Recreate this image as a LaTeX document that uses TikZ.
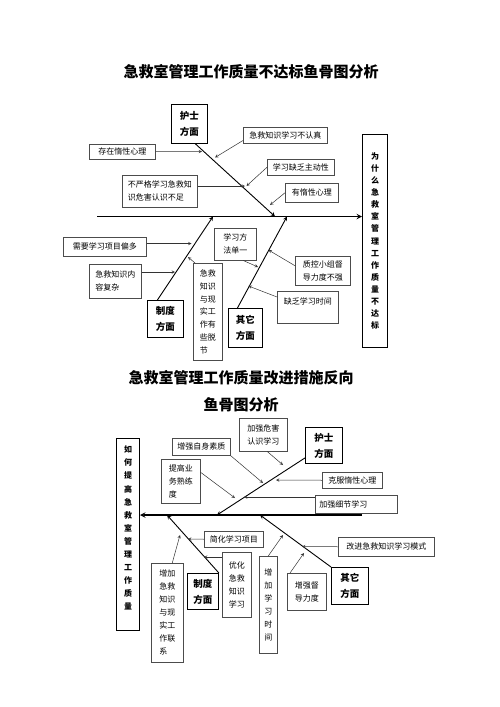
\documentclass[tikz,border=0pt]{standalone}
\usepackage{fontspec}
\setmainfont{Noto Sans CJK SC}

\begin{document}
\begin{tikzpicture}[x=1pt, y=-1pt,
  cause/.style={draw=black!70, line width=0.5pt, inner sep=0pt, anchor=north west, align=left, font=\fontsize{8}{13}\selectfont},
  part/.style={draw, line width=0.9pt, inner sep=0pt, anchor=north west, align=center, font=\bfseries\fontsize{9.5}{16}\selectfont},
  ask/.style={draw, line width=1pt, inner sep=0pt, anchor=north west, align=center, font=\bfseries\fontsize{8}{12.1}\selectfont},
  spine/.style={line width=1.4pt},
  bone/.style={line width=0.9pt},
  hint/.style={line width=0.5pt, black!80}]
	\useasboundingbox[fill=white] (0,0) rectangle (500,707);

	% upper fishbone
	\node[font=\bfseries\fontsize{15}{18}\selectfont] (title1) at (251,72) {急救室管理工作质量不达标鱼骨图分析};
	\node[part, minimum width=36pt, minimum height=39pt] (nurse1) at (171,104) {护士\\方面};
	\node[part, minimum width=36pt, minimum height=37pt] (rule1) at (147,300) {制度\\方面};
	\node[part, minimum width=34pt, minimum height=39pt] (other1) at (228,308) {其它\\方面};
	\node[ask, minimum width=25pt, minimum height=213pt] (why) at (362,134) {为\\什\\么\\急\\救\\室\\管\\理\\工\\作\\质\\量\\不\\达\\标};
	\node[cause, minimum width=84pt, minimum height=16pt] (c1) at (243,127) {急救知识学习不认真};
	\node[cause, minimum width=66pt, minimum height=15pt] (c2) at (89,144) {存在惰性心理};
	\node[cause, minimum width=67pt, minimum height=16pt] (c3) at (267,159) {学习缺乏主动性};
	\node[cause, minimum width=75pt, minimum height=32pt] (c4) at (122,175) {不严格学习急救知\\识危害认识不足};
	\node[cause, minimum width=53pt, minimum height=19pt] (c5) at (285,183) {有惰性心理};
	\node[cause, minimum width=83pt, minimum height=19pt] (c6) at (63,237) {需要学习项目偏多};
	\node[cause, minimum width=52pt, minimum height=34pt] (c7) at (89,264) {急救知识内\\容复杂};
	\node[cause, minimum width=29pt, minimum height=97pt, font=\fontsize{8}{12.8}\selectfont] (c8) at (193,263) {急救\\知识\\与现\\实工\\作有\\些脱\\节};
	\node[cause, minimum width=42pt, minimum height=32pt] (c9) at (214,228) {学习方\\法单一};
	\node[cause, minimum width=55pt, minimum height=29pt] (c10) at (295,256) {质控小组督\\导力度不强};
	\node[cause, minimum width=61pt, minimum height=32pt] (c11) at (277,291) {缺乏学习时间\\ \mbox{}};

	\coordinate (s1) at (97,216.5);
	\coordinate (n1) at (275,216.5);
	\coordinate (r1) at (213,216.5);
	\coordinate (o1) at (287,216.5);
	\coordinate (t1) at (215,157.5);
	\coordinate (t2) at (202,151.5);
	\coordinate (t3) at (246.5,186);
	\coordinate (t4) at (245,186);
	\coordinate (t5) at (270,205);
	\coordinate (t6) at (191.5,243.5);
	\coordinate (t7) at (175,272);
	\coordinate (t8) at (188,257);
	\coordinate (t9) at (258,267);
	\coordinate (t10) at (268.5,250);
	\coordinate (t11) at (248.5,286);

	\draw[spine, ->, >=stealth] (s1) -- (s1 -| why.west);
	\draw[bone, ->, >=stealth] ([xshift=6pt]nurse1.south) -- (n1);
	\draw[bone, ->, >=stealth] ([xshift=-8pt]rule1.north) -- (r1);
	\draw[bone, ->, >=stealth] ([xshift=-8pt]other1.north) -- (o1);
	\draw[hint, ->, >=stealth] ([yshift=3pt]c1.south west) -- (t1);
	\draw[hint, ->, >=stealth] (c2.east) -- (t2);
	\draw[hint, ->, >=stealth] (c3.west) -- (t3);
	\draw[hint, ->, >=stealth] (c4.east |- t4) -- (t4);
	\draw[hint, ->, >=stealth] (c5.west) -- (t5);
	\draw[hint, ->, >=stealth] (c6.east |- t6) -- (t6);
	\draw[hint, ->, >=stealth] (c7.east |- t7) -- (t7);
	\draw[hint, ->, >=stealth] ([xshift=2pt]c8.north west) -- (t8);
	\draw[hint, ->, >=stealth] ([xshift=8pt]c9.south) -- (t9);
	\draw[hint, ->, >=stealth] ([yshift=5pt]c10.west) -- (t10);
	\draw[hint, ->, >=stealth] ([yshift=-6pt]c11.north west) -- (t11);

	% lower fishbone
	\node[font=\bfseries\fontsize{15}{27}\selectfont, align=center] (title2) at (241,391.5) {急救室管理工作质量改进措施反向\\鱼骨图分析};
	\node[part, minimum width=37pt, minimum height=36pt] (nurse2) at (305,427) {护士\\方面};
	\node[part, minimum width=31pt, minimum height=36pt] (rule2) at (187,573) {制度\\方面};
	\node[part, minimum width=37pt, minimum height=37pt] (other2) at (331,567) {其它\\方面};
	\node[ask, minimum width=23pt, minimum height=192pt, font=\bfseries\fontsize{8}{13.1}\selectfont] (how) at (116,438) {如\\何\\提\\高\\急\\救\\室\\管\\理\\工\\作\\质\\量\\ \mbox{}};
	\node[cause, minimum width=48pt, minimum height=33pt] (d1) at (239,418) {加强危害\\认识学习};
	\node[cause, minimum width=58pt, minimum height=17pt] (d2) at (172,438) {增强自身素质};
	\node[cause, minimum width=39pt, minimum height=44pt] (d3) at (161,459) {提高业\\务熟练\\度};
	\node[cause, minimum width=60pt, minimum height=16pt] (d4) at (322,472) {克服惰性心理};
	\node[cause, minimum width=82pt, minimum height=18pt, text width=74pt] (d5) at (315,495) {加强细节学习};
	\node[cause, minimum width=59pt, minimum height=16pt] (d6) at (204,531) {简化学习项目};
	\node[cause, minimum width=29pt, minimum height=65pt] (d7) at (222,552) {优化\\急救\\知识\\学习};
	\node[cause, minimum width=32pt, minimum height=99pt] (d8) at (151,563) {增加\\急救\\知识\\与现\\实工\\作联\\系};
	\node[cause, minimum width=18pt, minimum height=97pt] (d9) at (259,556) {增\\加\\学\\习\\时\\间};
	\node[cause, minimum width=96pt, minimum height=19pt] (d10) at (338,537) {改进急救知识学习模式};
	\node[cause, minimum width=39pt, minimum height=37pt] (d11) at (287,573) {增强督\\导力度};

	\coordinate (s2) at (362,515);
	\coordinate (n2) at (217,515);
	\coordinate (r2) at (167,515);
	\coordinate (o2) at (260,515);
	\coordinate (u1) at (283,465);
	\coordinate (u2) at (263,483);
	\coordinate (u3) at (235,498);
	\coordinate (u4) at (276,480);
	\coordinate (u5) at (244,497);
	\coordinate (u6) at (188,539);
	\coordinate (u7) at (204,557);
	\coordinate (u8) at (180,535);
	\coordinate (u9) at (283,535);
	\coordinate (u10) at (302,546.5);
	\coordinate (u11) at (304,553);

	\draw[spine, ->, >=stealth] (s2) -- (s2 -| how.east);
	\draw[bone, ->, >=stealth] ([yshift=6pt]nurse2.south west) -- (n2);
	\draw[bone, ->, >=stealth] (rule2.north east) -- (r2);
	\draw[bone, ->, >=stealth] (other2.north west) -- (o2);
	\draw[hint, ->, >=stealth] ([xshift=4pt]d1.south) -- (u1);
	\draw[hint, ->, >=stealth] (d2.south east) -- (u2);
	\draw[hint, ->, >=stealth] ([yshift=9pt]d3.east) -- (u3);
	\draw[hint, ->, >=stealth] (d4.west) -- (u4);
	\draw[hint, ->, >=stealth] (d5.west |- u5) -- (u5);
	\draw[hint, ->, >=stealth] (d6.west) -- (u6);
	\draw[hint, ->, >=stealth] (d7.west |- u7) -- (u7);
	\draw[hint, ->, >=stealth] ([xshift=5pt]d8.north) -- (u8);
	\draw[hint, ->, >=stealth] (d9.north) -- (u9);
	\draw[hint, ->, >=stealth] (d10.west) -- (u10);
	\draw[hint, ->, >=stealth] ([xshift=3pt]d11.north west) -- (u11);
\end{tikzpicture}
\end{document}
